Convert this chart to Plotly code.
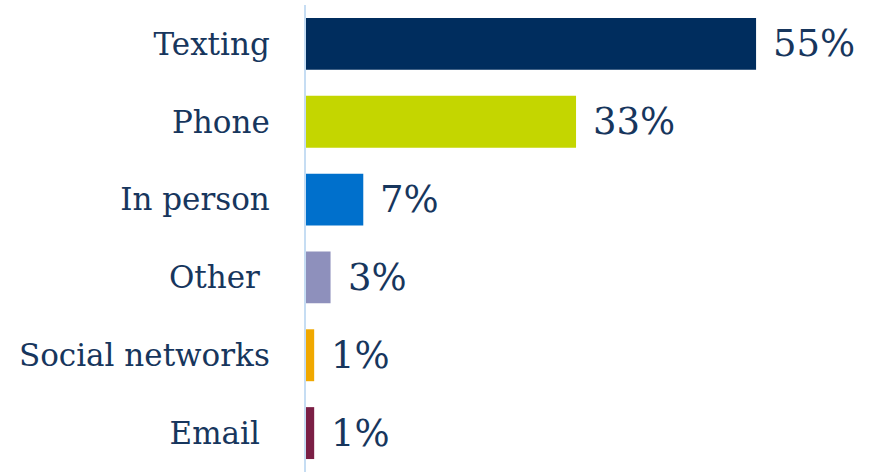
import plotly.graph_objects as go

categories = ["Texting", "Phone", "In person", "Other", "Social networks", "Email"]
tick_labels = ["Texting", "Phone", "In person", "Other\u00a0", "Social networks", "Email\u00a0"]
values = [55, 33, 7, 3, 1, 1]
colors = ["#002D5E", "#C4D600", "#0070CC", "#8E90BC", "#F0A800", "#7B1F45"]

text_color = "#17365D"
font_family = "DejaVu Serif"

fig = go.Figure(
    go.Bar(
        x=values,
        y=categories,
        orientation="h",
        marker=dict(color=colors, line=dict(width=0)),
        hoverinfo="skip",
    )
)

# value labels placed just right of each bar end
for cat, val in zip(categories, values):
    fig.add_annotation(
        x=val, y=cat, text=f"{val}%", showarrow=False,
        xanchor="left", yanchor="middle", xshift=15,
        font=dict(family=font_family, size=37, color=text_color),
    )

fig.update_layout(
    width=869, height=472,
    margin=dict(l=306, r=0, t=5, b=0),
    paper_bgcolor="white", plot_bgcolor="white",
    bargap=0.333,
    showlegend=False,
    xaxis=dict(range=[0, 68.8], visible=False, fixedrange=True),
    yaxis=dict(
        categoryorder="array", categoryarray=categories[::-1],
        tickvals=categories, ticktext=tick_labels,
        autorange=False, range=[-0.5, 5.5],
        showline=True, linecolor="#C6DDF3", linewidth=2,
        showgrid=False, ticks="", ticklabelstandoff=28,
        tickfont=dict(family=font_family, size=31, color=text_color),
    ),
)

fig.write_html("out.html")
